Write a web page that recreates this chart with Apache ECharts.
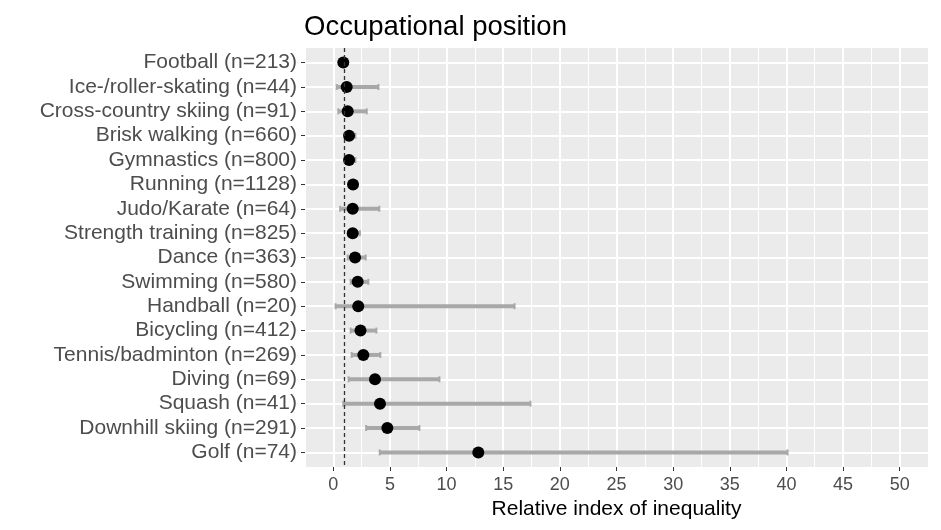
<!DOCTYPE html>
<html>
<head>
<meta charset="utf-8">
<script src="https://cdn.jsdelivr.net/npm/echarts@6/dist/echarts.min.js"></script>
<style>
  html, body { margin: 0; padding: 0; background: #fff; }
  #chart { width: 941px; height: 530px; }
</style>
</head>
<body>
<div id="chart"></div>
<script>
var categories = [
  'Football (n=213)', 'Ice-/roller-skating (n=44)', 'Cross-country skiing (n=91)',
  'Brisk walking (n=660)', 'Gymnastics (n=800)', 'Running (n=1128)',
  'Judo/Karate (n=64)', 'Strength training (n=825)', 'Dance (n=363)',
  'Swimming (n=580)', 'Handball (n=20)', 'Bicycling (n=412)',
  'Tennis/badminton (n=269)', 'Diving (n=69)', 'Squash (n=41)',
  'Downhill skiing (n=291)', 'Golf (n=74)'
];
var estimate = [0.88, 1.18, 1.27, 1.39, 1.39, 1.74, 1.71, 1.71, 1.92, 2.15, 2.2, 2.4, 2.65, 3.68, 4.12, 4.77, 12.8];
var lower    = [0.75, 0.3, 0.44, 1.1, 1.1, 1.45, 0.6, 1.33, 1.27, 1.53, 0.2, 1.53, 1.62, 1.35, 0.88, 2.9, 4.1];
var upper    = [1.15, 3.98, 2.95, 1.95, 1.95, 2.0, 4.06, 2.35, 2.86, 3.09, 16.0, 3.8, 4.15, 9.37, 17.4, 7.6, 40.1];
var xTicks = [0, 5, 10, 15, 20, 25, 30, 35, 40, 45, 50];
var refLine = 1;

var rowIdx = categories.map(function (c, i) { return i; });
var font = '"Liberation Sans", Arial, sans-serif';

var chart = echarts.init(document.getElementById('chart'));

var option = {
  animation: false,
  title: {
    text: 'Occupational position',
    left: 304,
    top: 13,
    padding: 0,
    textStyle: { fontFamily: font, fontSize: 27.5, fontWeight: 'normal', color: '#000' }
  },
  grid: {
    left: 305,
    right: 13,
    top: 48,
    bottom: 63,
    show: true,
    backgroundColor: '#EBEBEB',
    borderWidth: 0
  },
  xAxis: [{
    type: 'value',
    min: -2.5,
    max: 52.5,
    name: 'Relative index of inequality',
    nameLocation: 'middle',
    nameGap: 32,
    nameTextStyle: { fontFamily: font, fontSize: 21, color: '#000' },
    axisLine: { show: false, onZero: false },
    axisTick: { show: true, customValues: xTicks, length: 4, lineStyle: { color: '#333', width: 1 } },
    axisLabel: { customValues: xTicks, margin: 9, fontFamily: font, fontSize: 18, color: '#4D4D4D' },
    splitLine: { show: true, lineStyle: { color: '#fff', width: 2 } }
  }, {
    type: 'value',
    position: 'top',
    min: -2.5,
    max: 52.5,
    interval: 2.5,
    axisLine: { show: false, onZero: false },
    axisTick: { show: false },
    axisLabel: { show: false },
    splitLine: { show: true, lineStyle: { color: '#fff', width: 1 } }
  }],
  yAxis: {
    type: 'value',
    inverse: true,
    min: -0.6,
    max: 16.6,
    axisLine: { show: false, onZero: false },
    axisTick: { show: true, customValues: rowIdx, length: 4, lineStyle: { color: '#333', width: 1 } },
    axisLabel: {
      customValues: rowIdx,
      margin: 8,
      fontFamily: font,
      fontSize: 21,
      color: '#4D4D4D',
      formatter: function (v) { return categories[Math.round(v)] || ''; }
    },
    splitLine: { show: true, lineStyle: { color: '#fff', width: 2 } }
  },
  series: [{
    type: 'custom',
    xAxisIndex: 0,
    data: rowIdx.map(function (i) { return [lower[i], upper[i], i]; }),
    encode: { x: [0, 1], y: 2 },
    renderItem: function (params, api) {
      var y = api.value(2);
      var lo = api.coord([api.value(0), y]);
      var hi = api.coord([api.value(1), y]);
      var st = { stroke: '#A8A8A8', lineWidth: 4 };
      var cap = { stroke: '#A8A8A8', lineWidth: 2 };
      return {
        type: 'group',
        children: [
          { type: 'line', shape: { x1: lo[0], y1: lo[1], x2: hi[0], y2: hi[1] }, style: st },
          { type: 'line', shape: { x1: lo[0], y1: lo[1] - 3, x2: lo[0], y2: lo[1] + 3 }, style: cap },
          { type: 'line', shape: { x1: hi[0], y1: hi[1] - 3, x2: hi[0], y2: hi[1] + 3 }, style: cap }
        ]
      };
    },
    markLine: {
      silent: true,
      symbol: 'none',
      label: { show: false },
      lineStyle: { type: [4, 3], color: '#333', width: 1.3 },
      data: [{ xAxis: refLine }]
    }
  }, {
    type: 'scatter',
    xAxisIndex: 0,
    symbol: 'circle',
    symbolSize: 12,
    itemStyle: { color: '#000', opacity: 1 },
    data: rowIdx.map(function (i) { return [estimate[i], i]; })
  }]
};

chart.setOption(option);
</script>
</body>
</html>
